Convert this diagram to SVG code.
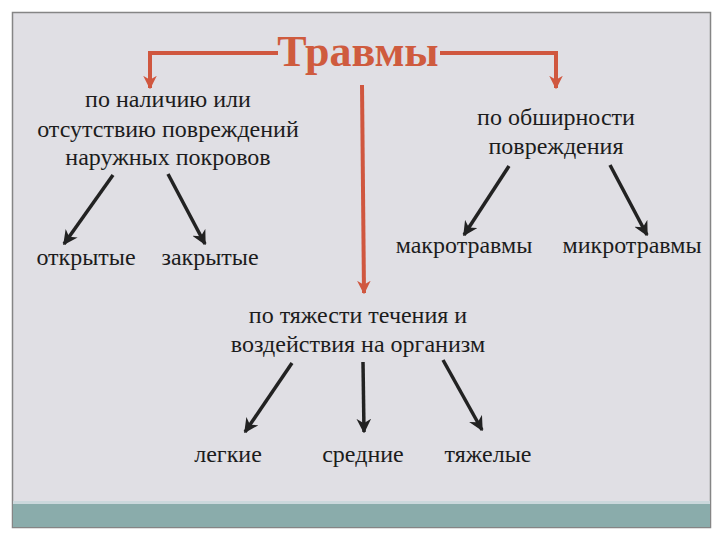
<svg xmlns="http://www.w3.org/2000/svg" width="720" height="540" viewBox="0 0 720 540">
  <style>
    .t { font-family: "Liberation Serif", "Times New Roman", serif; font-size: 24px; fill: #1c1c1c; text-anchor: middle; }
    .title { font-family: "Liberation Serif", "Times New Roman", serif; font-size: 44px; font-weight: bold; fill: #cf5b3e; text-anchor: middle; }
    .red { stroke: #d0573f; stroke-width: 4; fill: none; }
    .blk { stroke: #222; stroke-width: 3.5; fill: none; marker-end: url(#ab); }
  </style>
  <defs>
    <marker id="ar" viewBox="0 0 10 10" refX="9" refY="5" markerWidth="3.4" markerHeight="3.4" orient="auto" markerUnits="strokeWidth">
      <path d="M0,0 L10,5 L0,10 L3,5 Z" fill="#d0573f"/>
    </marker>
    <marker id="ab" viewBox="0 0 10 10" refX="9" refY="5" markerWidth="4.2" markerHeight="4.2" orient="auto" markerUnits="strokeWidth">
      <path d="M0,0 L10,5 L0,10 L3,5 Z" fill="#222"/>
    </marker>
  </defs>
  <rect x="0" y="0" width="720" height="540" fill="#ffffff"/>
  <rect x="12.5" y="12.5" width="698" height="515" fill="#e0dfe4" stroke="#858585" stroke-width="1.5"/>
  <rect x="13" y="501" width="697" height="3" fill="#cbd8dc"/>
  <rect x="13" y="504" width="697" height="23" fill="#8aacab"/>

  <g id="connectors">
    <polyline class="red" points="278,53 150,53 150,88" marker-end="url(#ar)"/>
    <polyline class="red" points="440,53 556,53 556,88" marker-end="url(#ar)"/>
    <line class="red" x1="362" y1="85" x2="364" y2="293" marker-end="url(#ar)"/>
    <line class="blk" x1="113" y1="175" x2="64" y2="244"/>
    <line class="blk" x1="168" y1="174" x2="205" y2="244"/>
    <line class="blk" x1="509" y1="166" x2="464" y2="235"/>
    <line class="blk" x1="610" y1="165" x2="647" y2="235"/>
    <line class="blk" x1="292" y1="363" x2="245" y2="432"/>
    <line class="blk" x1="363" y1="362" x2="364" y2="432"/>
    <line class="blk" x1="443" y1="360" x2="482" y2="430"/>
  </g>

  <g id="title"><text class="title" x="358" y="66">Травмы</text></g>
  <g id="by-cover">
    <text class="t" x="168" y="107">по наличию или</text>
    <text class="t" x="168" y="137">отсутствию повреждений</text>
    <text class="t" x="168" y="165">наружных покровов</text>
  </g>
  <g id="by-extent">
    <text class="t" x="556" y="125">по обширности</text>
    <text class="t" x="556" y="154">повреждения</text>
  </g>
  <g id="by-severity">
    <text class="t" x="358" y="323">по тяжести течения и</text>
    <text class="t" x="358" y="352">воздействия на организм</text>
  </g>
  <g id="open"><text class="t" x="86" y="265">открытые</text></g>
  <g id="closed"><text class="t" x="210" y="265">закрытые</text></g>
  <g id="macro"><text class="t" x="464" y="253">макротравмы</text></g>
  <g id="micro"><text class="t" x="632" y="253">микротравмы</text></g>
  <g id="light"><text class="t" x="228" y="462">легкие</text></g>
  <g id="medium"><text class="t" x="363" y="462">средние</text></g>
  <g id="heavy"><text class="t" x="488" y="462">тяжелые</text></g>
</svg>
